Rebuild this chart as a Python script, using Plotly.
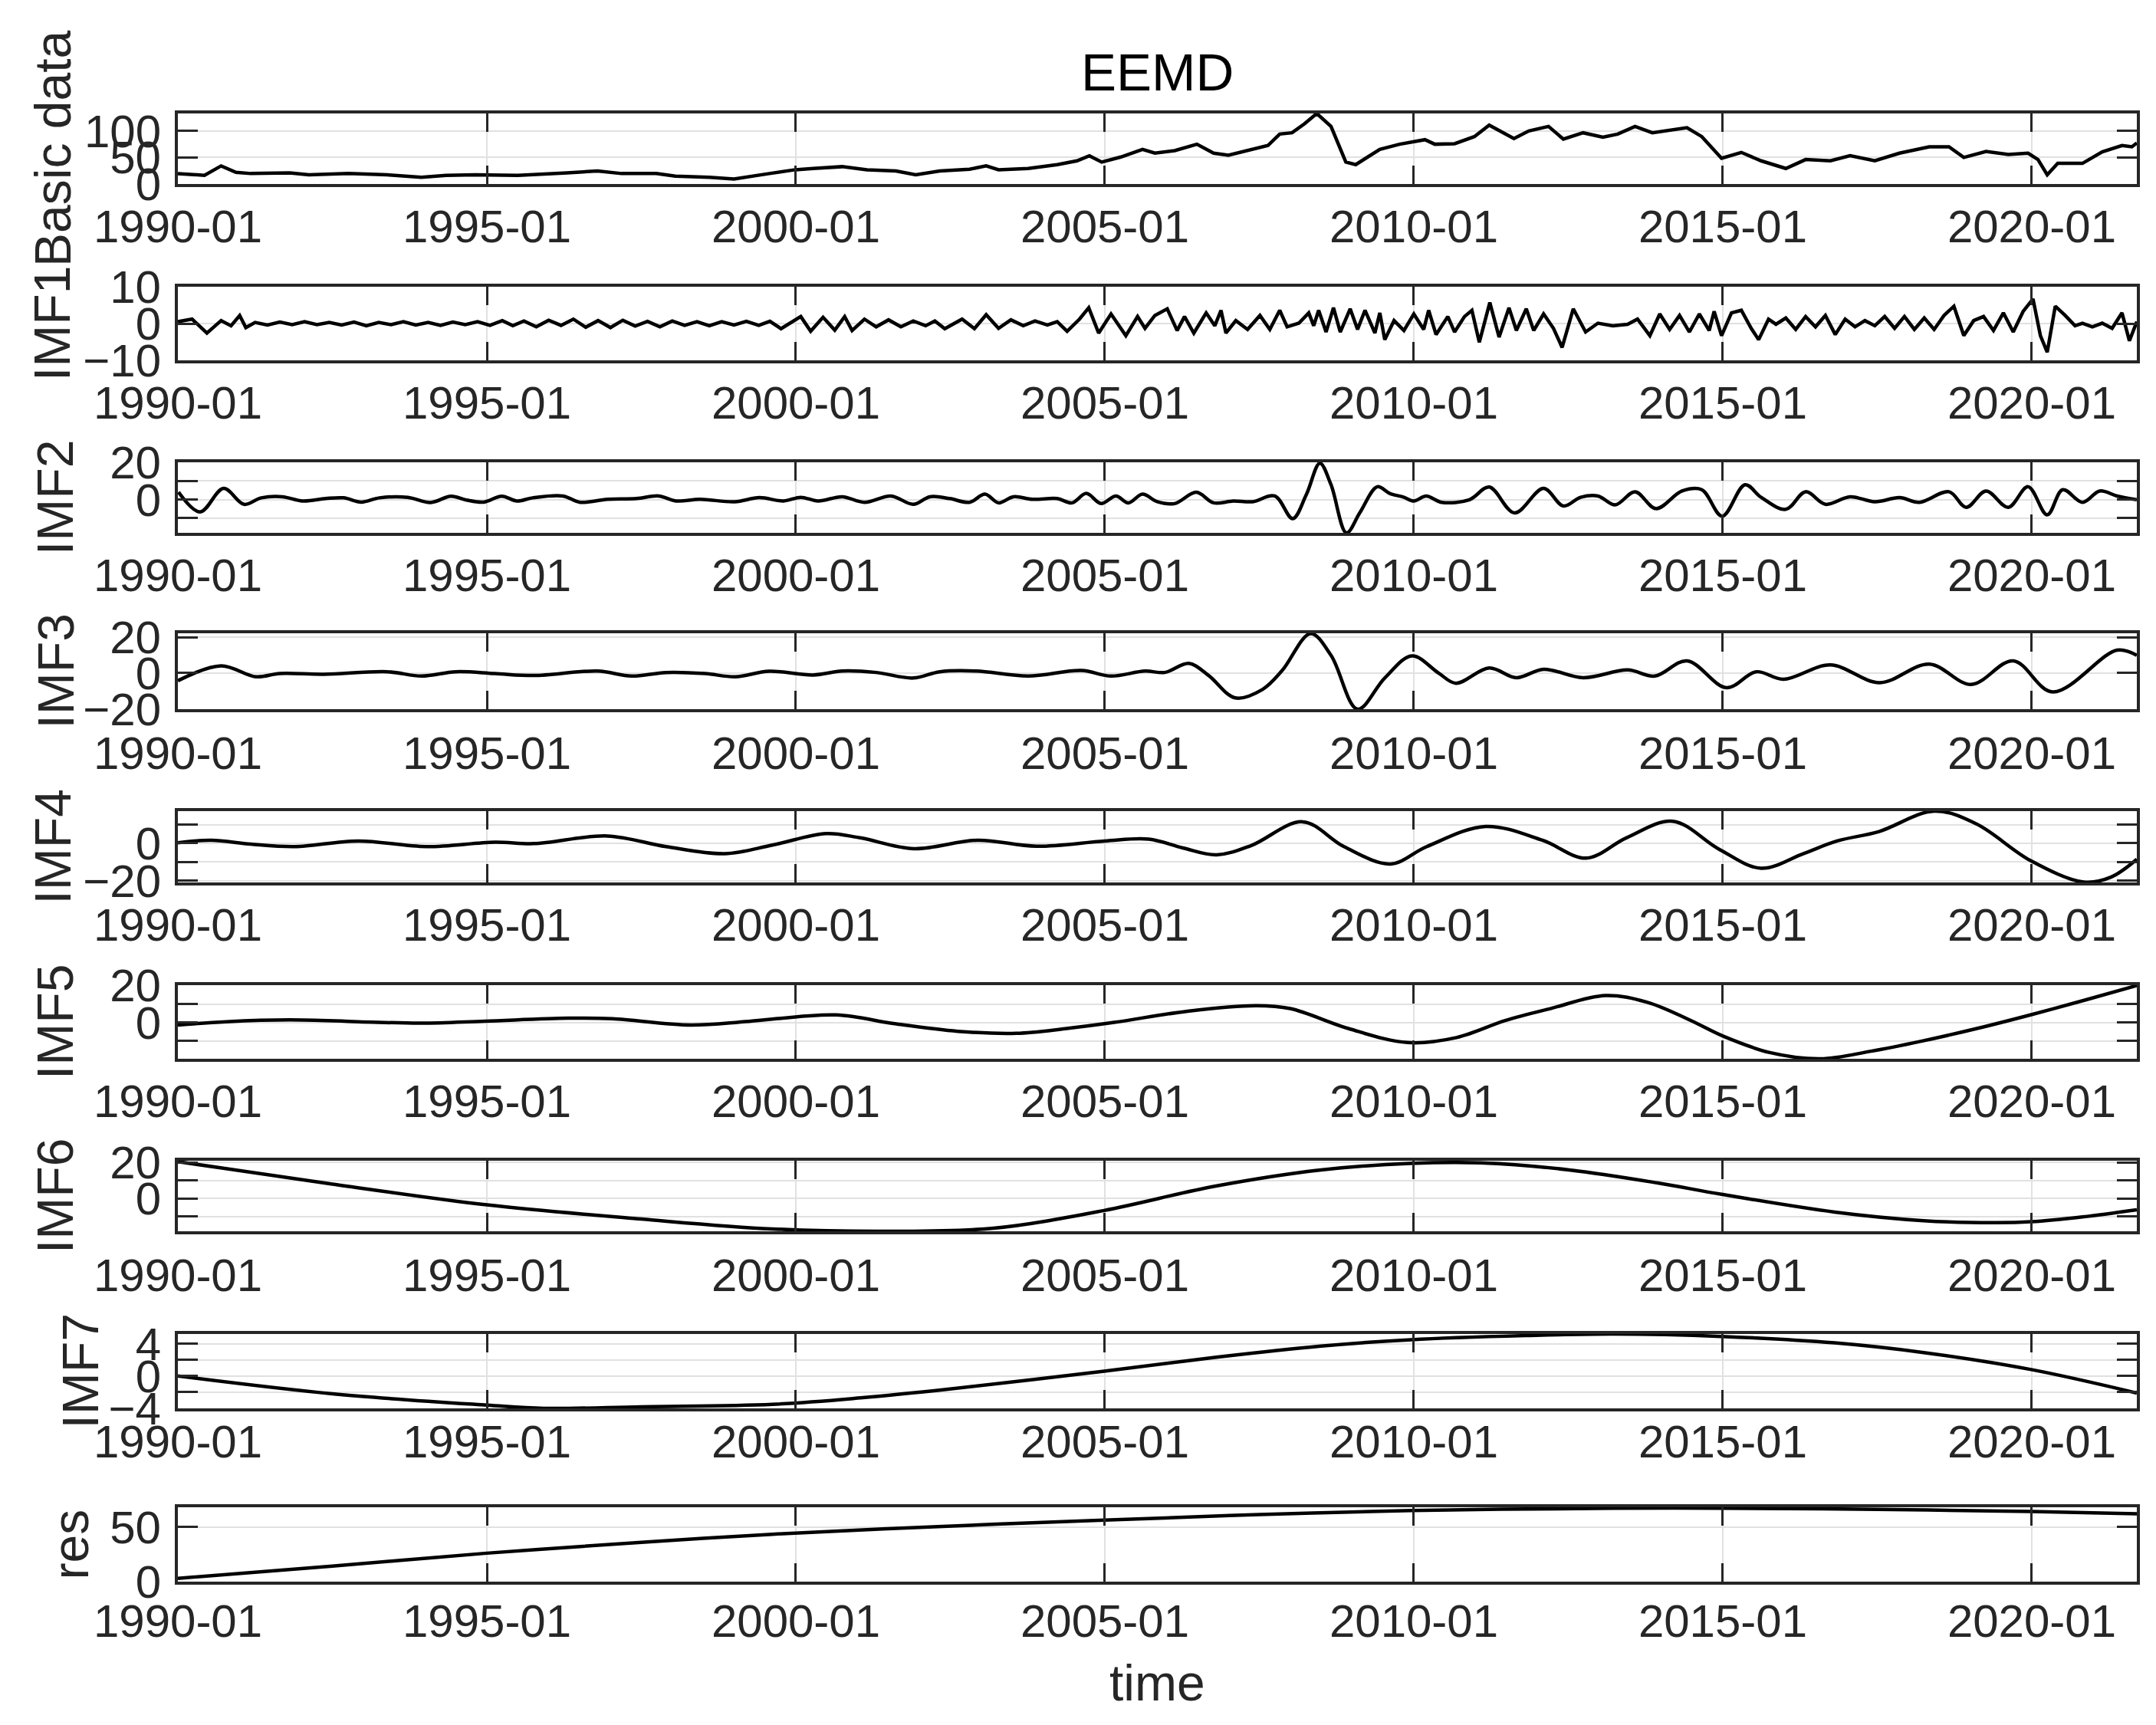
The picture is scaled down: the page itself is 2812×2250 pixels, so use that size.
import plotly.graph_objects as go

# ---- data (decimal years) ----
year_ticks = [1990, 1995, 2000, 2005, 2010, 2015, 2020]
year_labels = ["1990-01", "1995-01", "2000-01", "2005-01", "2010-01", "2015-01", "2020-01"]

basic_t = [1990.0, 1990.43, 1990.70, 1990.94, 1991.18, 1991.81, 1992.12, 1992.76, 1993.39, 1993.94,
           1994.34, 1994.81, 1995.5, 1995.92, 1996.3, 1996.79, 1997.18, 1997.74, 1998.05, 1998.6,
           1999.0, 1999.57, 1999.99, 2000.28, 2000.75, 2001.15, 2001.62, 2001.94, 2002.33, 2002.81,
           2003.08, 2003.28, 2003.76, 2004.23, 2004.55, 2004.75, 2004.95, 2005.26, 2005.61, 2005.81,
           2006.13, 2006.49, 2006.76, 2007.0, 2007.32, 2007.64, 2007.83, 2008.03, 2008.23, 2008.43,
           2008.66, 2008.9, 2009.06, 2009.45, 2009.77, 2010.18, 2010.34, 2010.66, 2010.98, 2011.22,
           2011.62, 2011.86, 2012.18, 2012.42, 2012.74, 2013.06, 2013.30, 2013.58, 2013.86, 2014.18,
           2014.42, 2014.66, 2014.98, 2015.30, 2015.62, 2016.02, 2016.34, 2016.74, 2017.06, 2017.46,
           2017.86, 2018.34, 2018.66, 2018.9, 2019.26, 2019.62, 2019.94, 2020.1, 2020.25, 2020.42,
           2020.82, 2021.14, 2021.46, 2021.62, 2021.7]
basic_v = [19.7, 16.3, 34.1, 22.1, 19.7, 21.1, 17.3, 19.7, 17.3, 12.5,
           16.3, 17.3, 16.3, 18.2, 21.0, 24.5, 19.7, 19.7, 14.9, 12.5,
           9.5, 19.7, 26.9, 29.3, 32.7, 26.9, 24.5, 17.3, 24.5, 27.9,
           34.1, 26.9, 29.3, 36.5, 43.7, 53.3, 41.3, 50.9, 65.4, 58.2,
           63.0, 75.0, 58.2, 54.3, 63.0, 72.6, 94.2, 96.6, 113.4, 133.0,
           108.6, 41.3, 36.5, 65.4, 75.0, 83.6, 75.0, 76.0, 89.4, 111.0,
           85.6, 100.0, 108.6, 84.6, 96.6, 88.4, 94.2, 108.6, 96.6, 101.4,
           106.2, 89.4, 48.5, 59.6, 43.7, 29.3, 46.1, 43.7, 53.3, 43.7,
           58.2, 70.2, 70.2, 50.0, 61.5, 55.7, 58.2, 46.1, 17.3, 38.9,
           38.9, 60.6, 72.6, 70.2, 77.4]

imf1_t = [1990.0, 1990.23, 1990.47, 1990.70, 1990.86, 1991.0, 1991.1, 1991.25, 1991.45, 1991.65,
          1991.85, 1992.05, 1992.25, 1992.45, 1992.65, 1992.85, 1993.05, 1993.25, 1993.45, 1993.65,
          1993.85, 1994.05, 1994.25, 1994.45, 1994.65, 1994.85, 1995.05, 1995.25, 1995.42, 1995.6,
          1995.8, 1996.0, 1996.2, 1996.4, 1996.6, 1996.8, 1997.0, 1997.2, 1997.4, 1997.6,
          1997.8, 1998.0, 1998.2, 1998.4, 1998.6, 1998.8, 1999.0, 1999.2, 1999.4, 1999.58,
          1999.76, 2000.08, 2000.24, 2000.44, 2000.63, 2000.79, 2000.91, 2001.11, 2001.30, 2001.50,
          2001.70, 2001.90, 2002.10, 2002.25, 2002.41, 2002.69, 2002.89, 2003.08, 2003.28, 2003.48,
          2003.68, 2003.87, 2004.07, 2004.23, 2004.39, 2004.59, 2004.74, 2004.9, 2005.1, 2005.34,
          2005.53, 2005.65, 2005.81, 2006.01, 2006.17, 2006.29, 2006.44, 2006.64, 2006.78, 2006.88,
          2006.96, 2007.12, 2007.31, 2007.51, 2007.67, 2007.83, 2007.95, 2008.14, 2008.30, 2008.38,
          2008.46, 2008.58, 2008.70, 2008.81, 2008.97, 2009.09, 2009.21, 2009.37, 2009.45, 2009.53,
          2009.68, 2009.84, 2010.0, 2010.16, 2010.24, 2010.36, 2010.55, 2010.66, 2010.82, 2010.94,
          2011.06, 2011.23, 2011.38, 2011.54, 2011.66, 2011.82, 2011.94, 2012.10, 2012.26, 2012.40,
          2012.58, 2012.78, 2012.98, 2013.22, 2013.46, 2013.62, 2013.82, 2013.98, 2014.14, 2014.30,
          2014.46, 2014.62, 2014.78, 2014.86, 2014.98, 2015.14, 2015.30, 2015.46, 2015.58, 2015.74,
          2015.86, 2016.02, 2016.18, 2016.34, 2016.5, 2016.66, 2016.82, 2016.98, 2017.14, 2017.3,
          2017.46, 2017.62, 2017.78, 2017.94, 2018.1, 2018.26, 2018.42, 2018.58, 2018.74, 2018.9,
          2019.06, 2019.22, 2019.38, 2019.54, 2019.7, 2019.86, 2020.02, 2020.14, 2020.25, 2020.38,
          2020.54, 2020.7, 2020.82, 2020.98, 2021.14, 2021.3, 2021.46, 2021.58, 2021.7]
imf1_v = [0.5, 1.2, -2.6, 0.8, -0.6, 2.2, -1.1, 0.3, -0.4, 0.4,
          -0.3, 0.5, -0.3, 0.3, -0.4, 0.4, -0.6, 0.3, -0.3, 0.5,
          -0.4, 0.3, -0.5, 0.4, -0.3, 0.5, -0.5, 0.8, -0.6, 0.7,
          -0.9, 0.9, -0.5, 1.2, -1.0, 0.8, -1.1, 0.9, -0.7, 0.6,
          -0.9, 0.7, -0.5, 0.5, -0.6, 0.5, -0.4, 0.6, -0.5, 0.6,
          -1.4, 1.9, -2.1, 1.7, -1.8, 1.9, -1.9, 1.2, -0.9, 1.0,
          -0.9, 0.7, -0.6, 0.7, -1.4, 1.2, -1.4, 2.4, -1.3, 1.0,
          -0.6, 0.7, -0.4, 0.5, -2.1, 1.2, 4.3, -2.6, 2.6, -3.3,
          1.9, -1.3, 2.2, 4.0, -1.9, 1.9, -2.6, 2.9, -0.6, 3.6,
          -2.6, 0.8, -1.6, 2.2, -1.6, 3.6, -0.9, 0.1, 2.9, -0.6,
          3.6, -2.3, 4.3, -2.3, 4.0, -1.6, 3.6, -2.6, 2.9, -4.4,
          0.8, -1.9, 2.6, -1.6, 3.6, -3.0, 1.9, -2.3, 1.9, 3.6,
          -5.1, 5.7, -3.7, 4.3, -1.9, 4.0, -1.9, 2.6, -1.3, -6.5,
          4.0, -2.3, 0.1, -0.6, -0.2, 1.2, -3.3, 2.6, -1.6, 2.2,
          -2.3, 2.6, -1.9, 3.3, -3.3, 2.9, 3.6, -1.3, -4.4, 1.2,
          -0.2, 1.5, -1.6, 1.9, -0.9, 2.2, -3.0, 1.2, -0.9, 0.8,
          -0.6, 1.9, -1.3, 1.9, -1.6, 1.5, -1.6, 2.2, 4.7, -3.3,
          0.8, 1.9, -1.9, 2.9, -2.3, 3.3, 6.7, -3.3, -7.8, 4.7,
          2.2, -0.6, 0.1, -0.9, 0.1, -1.3, 2.9, -4.7, 0.5]

imf2_t = [1990.01, 1990.36, 1990.74, 1991.07, 1991.35, 1991.69, 1992.02, 1992.39, 1992.68, 1992.97,
          1993.26, 1993.72, 1994.09, 1994.42, 1994.67, 1994.95, 1995.24, 1995.49, 1995.74, 1996.23,
          1996.51, 1996.95, 1997.42, 1997.78, 1998.06, 1998.45, 1999.01, 1999.41, 1999.8, 2000.08,
          2000.36, 2000.75, 2001.11, 2001.54, 2001.9, 2002.17, 2002.49, 2002.81, 2003.06, 2003.28,
          2003.52, 2003.83, 2004.23, 2004.47, 2004.7, 2004.94, 2005.18, 2005.38, 2005.61, 2005.85,
          2006.13, 2006.48, 2006.76, 2007.08, 2007.39, 2007.75, 2008.04, 2008.26, 2008.48, 2008.66,
          2008.91, 2009.13, 2009.41, 2009.61, 2009.84, 2010.0, 2010.2, 2010.45, 2010.9, 2011.22,
          2011.63, 2012.1, 2012.42, 2012.7, 2012.98, 2013.26, 2013.58, 2013.92, 2014.34, 2014.66,
          2014.99, 2015.36, 2015.62, 2016.02, 2016.34, 2016.66, 2017.06, 2017.46, 2017.86, 2018.18,
          2018.66, 2018.94, 2019.26, 2019.62, 2019.94, 2020.25, 2020.5, 2020.82, 2021.1, 2021.38,
          2021.7]
imf2_v = [4.0, -6.7, 6.0, -2.6, 0.9, 1.5, -0.8, 0.5, 0.9, -1.4,
          0.9, 1.2, -1.6, 1.8, -0.3, -1.4, 1.8, -0.8, 0.9, 1.9,
          -1.5, 0.1, 0.5, 1.9, -0.8, 0.1, -1.2, 1.0, -0.8, 1.2,
          -0.8, 1.5, -1.5, 1.9, -2.6, 1.5, 0.5, -1.5, 2.9, -1.8,
          1.5, 0.1, 0.5, -1.8, 3.3, -2.2, 1.9, -1.8, 2.9, -1.2,
          -2.2, 3.9, -1.8, -0.8, -1.2, 1.9, -10.3, 2.6, 19.6, 8.0,
          -18.0, -6.9, 6.9, 3.3, 1.2, -0.8, 1.9, -1.5, -0.1, 6.7,
          -7.2, 6.0, -3.5, 1.2, 1.9, -2.9, 4.2, -4.9, 4.6, 5.3,
          -9.0, 8.0, 1.2, -5.3, 4.2, -2.6, 1.5, -1.2, 1.0, -1.5,
          4.2, -4.2, 4.6, -4.2, 6.9, -8.3, 5.3, -1.5, 4.6, 1.9,
          -0.1]

imf3_t = [1990.0, 1990.7, 1991.26, 1991.65, 1992.36, 1993.39, 1993.94, 1994.5, 1995.13, 1995.76,
          1996.79, 1997.34, 1997.9, 1998.53, 1999.02, 1999.57, 2000.28, 2000.75, 2001.3, 2001.9,
          2002.33, 2002.92, 2003.76, 2004.62, 2005.1, 2005.65, 2005.97, 2006.36, 2006.68, 2007.11,
          2007.55, 2007.87, 2008.33, 2008.66, 2009.09, 2009.53, 2009.97, 2010.4, 2010.68, 2011.22,
          2011.66, 2012.1, 2012.74, 2013.46, 2013.9, 2014.42, 2015.06, 2015.54, 2015.98, 2016.74,
          2017.54, 2018.34, 2019.02, 2019.7, 2020.34, 2021.38, 2021.7]
imf3_v = [-4.3, 4.0, -2.1, -0.3, -0.7, 0.7, -1.7, 0.7, -0.3, -1.4,
          1.1, -1.7, 0.3, -0.3, -2.1, 1.0, -1.1, 1.1, 0.3, -2.8,
          0.7, 1.1, -1.7, 1.4, -1.7, 1.1, 0.3, 5.4, -1.4, -13.9,
          -9.2, 1.4, 22.0, 9.9, -20.2, -2.8, 9.6, 0.0, -5.7, 2.8,
          -2.6, 2.1, -2.6, 1.7, -1.7, 6.8, -8.2, 0.7, -3.5, 4.5,
          -5.4, 5.0, -6.4, 6.8, -10.6, 12.8, 9.9]

imf4_t = [1990.0, 1990.54, 1991.18, 1991.89, 1992.92, 1994.02, 1995.13, 1995.76, 1996.95, 1997.9,
          1998.85, 1999.62, 2000.49, 2001.04, 2001.91, 2002.94, 2003.89, 2005.0, 2005.71, 2006.26,
          2006.81, 2007.37, 2008.2, 2008.87, 2009.62, 2010.21, 2011.16, 2012.08, 2012.79, 2013.44,
          2014.19, 2014.94, 2015.62, 2016.3, 2016.85, 2017.53, 2018.42, 2019.1, 2019.98, 2020.84,
          2021.28, 2021.7]
imf4_v = [0.2, 1.6, -0.5, -1.8, 1.2, -1.8, 0.6, -0.2, 3.9, -1.8,
          -5.6, -1.0, 5.2, 2.9, -2.9, 1.6, -1.6, 1.2, 2.2, -2.5,
          -6.2, -1.2, 11.5, -1.8, -11.1, -1.8, 9.0, 1.6, -8.0, 2.9,
          11.8, -3.2, -13.4, -5.6, 1.2, 6.3, 17.2, 10.4, -9.3, -20.8,
          -18.2, -8.6]

imf5_t = [1990.0, 1990.78, 1991.81, 1992.92, 1993.94, 1994.97, 1996.32, 1997.03, 1998.3, 1999.24,
          2000.65, 2001.6, 2002.62, 2003.57, 2004.36, 2005.15, 2006.34, 2007.45, 2008.0, 2008.95,
          2009.9, 2010.69, 2011.48, 2012.21, 2013.1, 2013.78, 2014.46, 2015.01, 2015.76, 2016.58,
          2017.4, 2018.21, 2019.1, 2019.98, 2020.87, 2021.7]
imf5_v = [-1.4, 0.4, 1.4, 0.4, -0.4, 0.7, 2.3, 2.0, -1.4, 0.6,
          4.1, -0.7, -4.8, -5.9, -3.4, 0.0, 6.1, 9.1, 7.5, -3.4,
          -10.9, -8.2, 1.0, 7.5, 14.6, 10.9, 1.4, -7.5, -16.3, -19.7,
          -15.6, -10.2, -3.4, 4.1, 12.2, 20.0]

imf6_t = [1990.0, 1992.5, 1995.0, 1997.5, 1999.62, 2001.48, 2003.2, 2004.99, 2006.78, 2008.5,
          2009.94, 2011.08, 2012.51, 2013.95, 2014.98, 2016.81, 2018.25, 2019.39, 2019.99, 2020.82,
          2021.7]
imf6_v = [20.5, 8.0, -3.6, -11.5, -17.0, -18.3, -16.6, -6.7, 6.8, 15.9,
          19.5, 19.8, 15.9, 8.6, 2.3, -7.6, -12.4, -13.5, -13.0, -10.3,
          -6.3]

imf7_t = [1990.0, 1992.5, 1995.0, 1995.92, 1997.5, 1999.62, 2001.05, 2002.49, 2004.99, 2006.78,
          2008.5, 2009.96, 2011.8, 2013.23, 2014.98, 2016.81, 2018.25, 2019.99, 2021.7]
imf7_v = [0.0, -2.2, -3.6, -4.0, -3.8, -3.5, -2.7, -1.6, 0.6, 2.3,
          3.7, 4.5, 5.0, 5.2, 4.9, 4.1, 2.9, 0.8, -2.1]

res_t = [1990.0, 1992.5, 1995.0, 1997.5, 1999.62, 2002.3, 2004.99, 2007.5, 2009.96, 2013.23,
         2014.98, 2017.5, 2019.99, 2021.7]
res_v = [3.0, 14.2, 26.1, 36.0, 43.5, 50.5, 56.4, 61.5, 65.2, 67.3,
         67.3, 66.3, 64.3, 62.3]

# ---- per-panel settings ----
W, H = 2812, 2250
X_L, X_R = 224, 2779
tops = [140, 366, 595, 818, 1050, 1277, 1506, 1732, 1958]
bottoms = [232, 462, 687, 917, 1143, 1373, 1598, 1829, 2055]
label_base = [93, 92, 96, 96, 92, 96, 96, 128, 115]
x_standoff = [0, 0, 0, 2, 0, 0, 2, -12, -4]
M = "\u2212"

panels = [
    ("Basic data", basic_t, basic_v, "linear", [0, 133], [0, 50, 100], ["0", "50", "100"]),
    ("IMF1", imf1_t, imf1_v, "linear", [-10, 10], [-10, 0, 10], [M + "10", "0", "10"]),
    ("IMF2", imf2_t, imf2_v, "spline", [-18, 20.1], [-10, 0, 10, 20], ["", "0", "", "20"]),
    ("IMF3", imf3_t, imf3_v, "spline", [-20.2, 22.2], [-20, 0, 20], [M + "20", "0", "20"]),
    ("IMF4", imf4_t, imf4_v, "spline", [-21, 17.2], [-20, -10, 0, 10], [M + "20", "", "0", ""]),
    ("IMF5", imf5_t, imf5_v, "spline", [-19.7, 20.2], [-10, 0, 10, 20], ["", "0", "", "20"]),
    ("IMF6", imf6_t, imf6_v, "spline", [-18.3, 21.0], [-10, 0, 10, 20], ["", "0", "", "20"]),
    ("IMF7", imf7_t, imf7_v, "spline", [-4.0, 5.2], [-4, -2, 0, 2, 4], [M + "4", "", "0", "", "4"]),
    ("res", res_t, res_v, "spline", [0, 68.2], [0, 50], ["0", "50"]),
]

AX = "#262626"
GRID = "#e1e1e1"
fig = go.Figure()
annotations = []

for i, (name, t, v, shape, yr, tv, tt) in enumerate(panels):
    n = "" if i == 0 else str(i + 1)
    fig.add_trace(go.Scatter(x=t, y=v, mode="lines", xaxis="x" + n, yaxis="y" + n,
                             line=dict(color="black", width=4.5, shape=shape, smoothing=1.0),
                             hoverinfo="skip"))
    common = dict(ticks="inside", tickwidth=3, tickcolor=AX, showline=True, linewidth=4,
                  linecolor=AX, mirror="ticks", showgrid=True, gridcolor=GRID, gridwidth=2,
                  zeroline=False, automargin=False, tickfont=dict(size=60, color=AX))
    fig.update_layout(**{
        "xaxis" + n: dict(domain=[X_L / W, X_R / W], range=[1990, 2021.7], tickvals=year_ticks,
                          ticktext=year_labels, ticklen=24, anchor="y" + n,
                          ticklabelstandoff=x_standoff[i], **common),
        "yaxis" + n: dict(domain=[1 - bottoms[i] / H, 1 - tops[i] / H], range=yr, tickvals=tv,
                          ticktext=tt, ticklen=26, anchor="x" + n, ticklabelstandoff=6, **common),
    })
    annotations.append(dict(text=name, xref="paper", yref="paper", showarrow=False,
                            x=(label_base[i] - 32) / W, y=1 - (tops[i] + bottoms[i]) / 2 / H,
                            xanchor="center", yanchor="middle", textangle=-90,
                            font=dict(size=66, color=AX)))

annotations.append(dict(text="EEMD", xref="paper", yref="paper", showarrow=False,
                        x=(X_L + X_R) / 2 / W, y=1 - 87 / H, xanchor="center", yanchor="middle",
                        font=dict(size=69, color="black")))
annotations.append(dict(text="time", xref="paper", yref="paper", showarrow=False,
                        x=(X_L + X_R) / 2 / W, y=1 - 2187 / H, xanchor="center", yanchor="middle",
                        font=dict(size=66, color=AX)))

fig.update_layout(width=W, height=H, margin=dict(l=0, r=0, t=0, b=0),
                  plot_bgcolor="white", paper_bgcolor="white", showlegend=False,
                  font=dict(family="Liberation Sans, Arial, sans-serif", color=AX),
                  annotations=annotations)

fig.write_html("out.html")
